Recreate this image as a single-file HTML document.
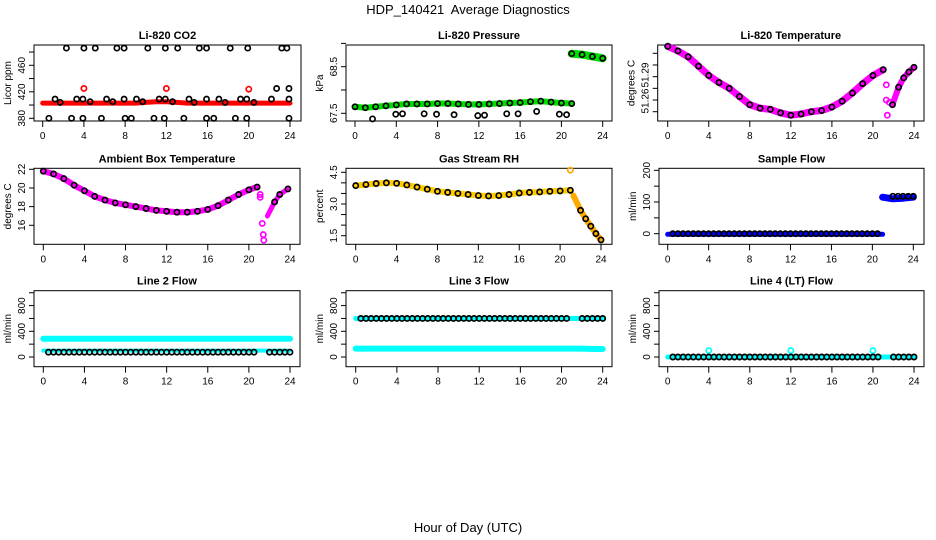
<!DOCTYPE html>
<html><head><meta charset="utf-8"><style>
body{margin:0;background:#fff}
svg{display:block;font-family:"Liberation Sans",sans-serif}
</style></head><body>
<svg id="chart" width="936" height="540" viewBox="0 0 936 540" xmlns="http://www.w3.org/2000/svg">
<text x="468" y="14" text-anchor="middle" font-size="13">HDP_140421&#160; Average Diagnostics</text>
<text x="468" y="532" text-anchor="middle" font-size="13">Hour of Day (UTC)</text>
</svg>
<script>
const HOURS = [0,1,2,3,4,5,6,7,8,9,10,11,12,13,14,15,16,17,18,19,20,21,22,23,24];
const HOURS21 = [0,1,2,3,4,5,6,7,8,9,10,11,12,13,14,15,16,17,18,19,20,21];
const HALF = [0.5,1,1.5,2,2.5,3,3.5,4,4.5,5,5.5,6,6.5,7,7.5,8,8.5,9,9.5,10,10.5,11,11.5,12,12.5,13,13.5,14,14.5,15,15.5,16,16.5,17,17.5,18,18.5,19,19.5,20,20.5,22,22.5,23,23.5,24];
const XTICKS = [0,4,8,12,16,20,24];

// CO2
const co2Band = [403,403,403,403,403,403,403,403,403,403,404,405,405,404,403,403,403,403,403,403,403,403,403,403,403];
const co2RedH = [4,12,20];
const co2RedV = [425,425,424];
const co2TopH = [2.3,4.0,5.1,7.2,7.9,10.2,11.9,13.1,15.2,15.9,18.2,19.9,23.2,23.7];
const co2TopV = [486,486,486,486,486,486,486,486,486,486,486,486,486,486];
const co2LowH = [0.6,2.8,3.9,5.7,8.0,8.6,10.8,11.8,13.7,15.9,16.6,18.7,19.8,23.9];
const co2LowV = [380,380,380,380,380,380,380,380,380,380,380,380,380,380];
const co2MidH = [1.2,1.7,3.3,3.9,4.6,6.2,6.8,7.9,9.1,9.7,11.3,11.9,12.6,14.2,14.7,15.9,17.1,17.7,19.2,19.8,20.5,22.2,23.9,22.7,23.9];
const co2MidV = [409,404,409,409,405,409,405,409,409,405,409,409,405,409,404,409,409,404,409,409,404,409,409,425,425];
// Pressure
const presBand1 = [67.64,67.62,67.64,67.66,67.68,67.7,67.7,67.7,67.71,67.71,67.7,67.69,67.69,67.7,67.71,67.72,67.73,67.75,67.76,67.74,67.72,67.71];
const presH2 = [21,22,23,24];
const presBand2 = [68.78,68.76,68.72,68.68];
const presLowH = [1.7,3.95,4.6,6.7,7.9,9.6,11.9,12.55,14.7,15.8,17.6,19.8,20.5];
const presLowV = [67.38,67.48,67.49,67.49,67.48,67.47,67.45,67.46,67.49,67.49,67.54,67.48,67.47];
// Li-820 temp
const tempBand1 = [51.306,51.302,51.297,51.289,51.281,51.275,51.27,51.263,51.256,51.253,51.252,51.249,51.247,51.248,51.25,51.251,51.254,51.259,51.266,51.274,51.281,51.286];
const tempH2 = [21.9,22.5,23,23.5,24];
const tempBand2 = [51.256,51.271,51.279,51.284,51.288];
const tempOutH = [21.3,21.3,21.4,21.6];
const tempOutV = [51.273,51.26,51.247,51.258];
// Ambient box temp
const boxBand1 = [21.8,21.5,21.0,20.3,19.7,19.1,18.7,18.4,18.2,18.0,17.8,17.6,17.5,17.4,17.4,17.5,17.7,18.1,18.7,19.3,19.8,20.1];
const boxH2 = [21.8,22.5,23,23.8];
const boxBand2 = [17.0,18.5,19.3,19.9];
const boxOutH = [21.1,21.1,21.3,21.4,21.45];
const boxOutV = [19.3,19.0,16.2,15.0,14.4];
// RH
const rhBand1 = [3.87,3.92,3.97,4.0,3.98,3.9,3.8,3.7,3.6,3.55,3.5,3.45,3.4,3.38,3.4,3.45,3.52,3.55,3.57,3.6,3.62,3.65];
const rhH2 = [21.3,22,22.5,23,23.5,24];
const rhBand2 = [3.4,2.7,2.3,1.95,1.6,1.3];
const rhOutH = [21];
const rhOutV = [4.6];
// Sample flow
const sfBand1 = [-2,-2,-2,-2,-2,-2,-2,-2,-2,-2,-2,-2,-2,-2,-2,-2,-2,-2,-2,-2,-2,-2];
const sfH2 = [21,22,23,24];
const sfBand2 = [115,110,112,115];
const sfBlack = [0,0,0,0,0,0,0,0,0,0,0,0,0,0,0,0,0,0,0,0,0,0,0,0,0,0,0,0,0,0,0,0,0,0,0,0,0,0,0,0,0,118,118,118,118,118];
// Line flows
const l2Hi = [285,285,285,285,285,285,285,285,285,285,285,285,285,285,285,285,285,285,285,285,285,285,285,285,285];
const l2Lo = [100,100,100,100,100,100,100,100,100,100,100,100,100,100,100,100,100,100,100,100,100,100,100,100,100];
const l2Black = [75,75,75,75,75,75,75,75,75,75,75,75,75,75,75,75,75,75,75,75,75,75,75,75,75,75,75,75,75,75,75,75,75,75,75,75,75,75,75,75,75,75,75,75,75,75];
const l3Hi = [600,600,600,600,600,600,600,600,600,600,600,600,600,600,600,600,600,600,600,600,600,600,600,600,600];
const l3Lo = [130,130,130,130,130,130,130,130,130,130,130,130,130,130,130,130,130,130,130,130,130,130,130,125,125];
const l3Black = [600,600,600,600,600,600,600,600,600,600,600,600,600,600,600,600,600,600,600,600,600,600,600,600,600,600,600,600,600,600,600,600,600,600,600,600,600,600,600,600,600,600,600,600,600,600];
const l4Cyan = [0,0,0,0,0,0,0,0,0,0,0,0,0,0,0,0,0,0,0,0,0,0,0,0,0];
const l4OutH = [4,12,20];
const l4OutV = [100,100,100];
const l4Black = [0,0,0,0,0,0,0,0,0,0,0,0,0,0,0,0,0,0,0,0,0,0,0,0,0,0,0,0,0,0,0,0,0,0,0,0,0,0,0,0,0,0,0,0,0,0];

const svg = document.getElementById('chart');
const NS = 'http://www.w3.org/2000/svg';
function mk(tag, attrs){const e=document.createElementNS(NS,tag);for(const k in attrs)e.setAttribute(k,attrs[k]);svg.appendChild(e);return e;}

function panel(c){
  const xs = h => c.x0 + (c.x24 - c.x0) * h / 24;
  const ys = v => c.p1 + (c.p2 - c.p1) * (v - c.v1) / (c.v2 - c.v1);
  const g = {xs, ys};
  let e = mk('rect',{x:c.L,y:c.T,width:c.R-c.L,height:c.B-c.T,fill:'none',stroke:'#000','stroke-width':1});
  
  
  e = mk('text',{x:(c.L+c.R)/2,y:c.T-6,'text-anchor':'middle','font-size':11,'font-weight':'bold'});
  e.textContent = c.title;
  
  
  XTICKS.forEach(t => {
    const x = xs(t);
    let k = mk('line',{x1:x,x2:x,y1:c.B,y2:c.B+6,stroke:'#000'});
    
    
    let l = mk('text',{x:x,y:c.B+18,'text-anchor':'middle','font-size':10});
    l.textContent = t;
    
    
  });
  c.yticks.forEach(t => {
    const y = ys(t);
    let k = mk('line',{x1:c.L-5,x2:c.L,y1:y,y2:y,stroke:'#000'});
    
    
  });
  c.ylabels.forEach((t,i) => {
    const y = c.ylabelPos ? c.ylabelPos[i] : ys(t);
    let l = mk('text',{x:c.L-9,y:y,'text-anchor':'middle','font-size':10,transform:`rotate(-90 ${c.L-9} ${y})`});
    l.textContent = c.ylabelText ? c.ylabelText[i] : t;
    
    
  });
  const yt = mk('text',{x:c.L-23,y:(c.T+c.B)/2,'text-anchor':'middle','font-size':10,transform:`rotate(-90 ${c.L-23} ${(c.T+c.B)/2})`});
  yt.textContent = c.ytitle;
  
  
  return g;
}
function band(g, id, hs, vs, color, w){
  const pts = hs.map((h,i)=>g.xs(h).toFixed(1)+','+g.ys(vs[i]).toFixed(1)).join(' ');
  const p = mk('polyline',{points:pts,fill:'none',stroke:color,'stroke-width':w,'stroke-linecap':'round','stroke-linejoin':'round'});
  
  
}
function pts(g, id, hs, vs, color){
  hs.forEach((h,i)=>{
    const c = mk('circle',{cx:g.xs(h),cy:g.ys(vs[i]),r:2.6,fill:'none',stroke:color,'stroke-width':1.7});
    
    
  });
}

// Panel 1 CO2
let g = panel({id:'co2',title:'Li-820 CO2',ytitle:'Licor ppm',L:34,R:301,T:45,B:121,x0:42.7,x24:290,v1:380,p1:118.3,v2:460,p2:65.3,yticks:[380,400,420,440,460,480],ylabels:[380,420,460]});
band(g,'co2-band',HOURS,co2Band,'#ff0000',5);
pts(g,'co2-red-point',co2RedH,co2RedV,'#ff0000');
pts(g,'co2-top-point',co2TopH,co2TopV,'#000');
pts(g,'co2-low-point',co2LowH,co2LowV,'#000');
pts(g,'co2-mid-point',co2MidH,co2MidV,'#000');

// Panel 2 Pressure
g = panel({id:'pressure',title:'Li-820 Pressure',ytitle:'kPa',L:346,R:612,T:45,B:121,x0:355,x24:602.7,v1:67.5,p1:113.3,v2:68.5,p2:66.7,yticks:[67.5,68,68.5,69],ylabels:[67.5,68.5]});
band(g,'pressure-band-1',HOURS21,presBand1,'#00dd00',6);
band(g,'pressure-band-2',presH2,presBand2,'#00dd00',8);
pts(g,'pressure-point',HOURS21,presBand1,'#000');
pts(g,'pressure-point',presH2,presBand2,'#000');
pts(g,'pressure-low-point',presLowH,presLowV,'#000');

// Panel 3 Li-820 temperature
g = panel({id:'licor-temp',title:'Li-820 Temperature',ytitle:'degrees C',L:657.7,R:924,T:45,B:121,x0:667.7,x24:914,v1:51.25,p1:111.7,v2:51.30,p2:53.3,yticks:[51.25,51.26,51.27,51.28,51.29,51.30],ylabels:[0,1],ylabelPos:[101,75],ylabelText:['51.26','51.29']});
band(g,'licor-temp-band-1',HOURS21,tempBand1,'#ff00ff',7);
band(g,'licor-temp-band-2',tempH2,tempBand2,'#ff00ff',6);
pts(g,'licor-temp-outlier',tempOutH,tempOutV,'#ff00ff');
pts(g,'licor-temp-point',HOURS21,tempBand1,'#000');
pts(g,'licor-temp-point',tempH2,tempBand2,'#000');

// Panel 4 Ambient box temperature
const H208 = [0,1,2,3,4,5,6,7,8,9,10,11,12,13,14,15,16,17,18,19,20,20.8];
g = panel({id:'box-temp',title:'Ambient Box Temperature',ytitle:'degrees C',L:34,R:300,T:168.3,B:244.3,x0:43.3,x24:290,v1:22,p1:169.3,v2:16,p2:225.3,yticks:[16,18,20,22],ylabels:[16,18,20,22]});
band(g,'box-temp-band-1',H208,boxBand1,'#ff00ff',6);
band(g,'box-temp-band-2',boxH2,boxBand2,'#ff00ff',5);
pts(g,'box-temp-outlier',boxOutH,boxOutV,'#ff00ff');
pts(g,'box-temp-point',H208,boxBand1,'#000');
pts(g,'box-temp-point',boxH2.slice(1),boxBand2.slice(1),'#000');

// Panel 5 RH
g = panel({id:'rh',title:'Gas Stream RH',ytitle:'percent',L:346,R:612,T:168.3,B:244.3,x0:355.7,x24:601,v1:4.5,p1:172.3,v2:1.5,p2:235.7,yticks:[1.5,2,2.5,3,3.5,4,4.5],ylabels:[1.5,3.0,4.5],ylabelText:['1.5','3.0','4.5']});
band(g,'rh-band-1',HOURS21,rhBand1,'#ffcc00',6);
band(g,'rh-band-2',rhH2,rhBand2,'#ffaa00',6);
pts(g,'rh-outlier',rhOutH,rhOutV,'#ffaa00');
pts(g,'rh-point',HOURS21,rhBand1,'#000');
pts(g,'rh-point',rhH2.slice(1),rhBand2.slice(1),'#000');

// Panel 6 Sample flow
g = panel({id:'sample-flow',title:'Sample Flow',ytitle:'ml/min',L:659,R:924,T:168.3,B:244.3,x0:667.7,x24:913.3,v1:0,p1:233.7,v2:200,p2:170.3,yticks:[0,50,100,150,200],ylabels:[0,100,200]});
band(g,'sample-flow-band-1',HOURS21,sfBand1,'#0000ff',5);
band(g,'sample-flow-band-2',sfH2,sfBand2,'#0000ff',7);
pts(g,'sample-flow-point',HALF,sfBlack,'#000');

// Row 3 flows
const flowCfg = {ytitle:'ml/min',T:290.7,B:366.7,v1:0,p1:357,v2:800,p2:305.6,yticks:[0,200,400,600,800,1000],ylabels:[0,400,800]};
g = panel(Object.assign({id:'line2-flow',title:'Line 2 Flow',L:34,R:300,x0:43.3,x24:290},flowCfg));
band(g,'line2-flow-high-band',HOURS,l2Hi,'#00ffff',6);
band(g,'line2-flow-low-band',HOURS,l2Lo,'#00ffff',4);
pts(g,'line2-flow-point',HALF,l2Black,'#000');

g = panel(Object.assign({id:'line3-flow',title:'Line 3 Flow',L:346,R:612,x0:355.7,x24:602.7},flowCfg));
band(g,'line3-flow-high-band',HOURS,l3Hi,'#00ffff',5);
band(g,'line3-flow-low-band',HOURS,l3Lo,'#00ffff',6);
pts(g,'line3-flow-point',HALF,l3Black,'#000');

g = panel(Object.assign({id:'line4-flow',title:'Line 4 (LT) Flow',L:659,R:924,x0:667.7,x24:914},flowCfg));
band(g,'line4-flow-band',HOURS,l4Cyan,'#00ffff',5);
pts(g,'line4-flow-outlier',l4OutH,l4OutV,'#00ffff');
pts(g,'line4-flow-point',HALF,l4Black,'#000');
</script>
</body></html>
